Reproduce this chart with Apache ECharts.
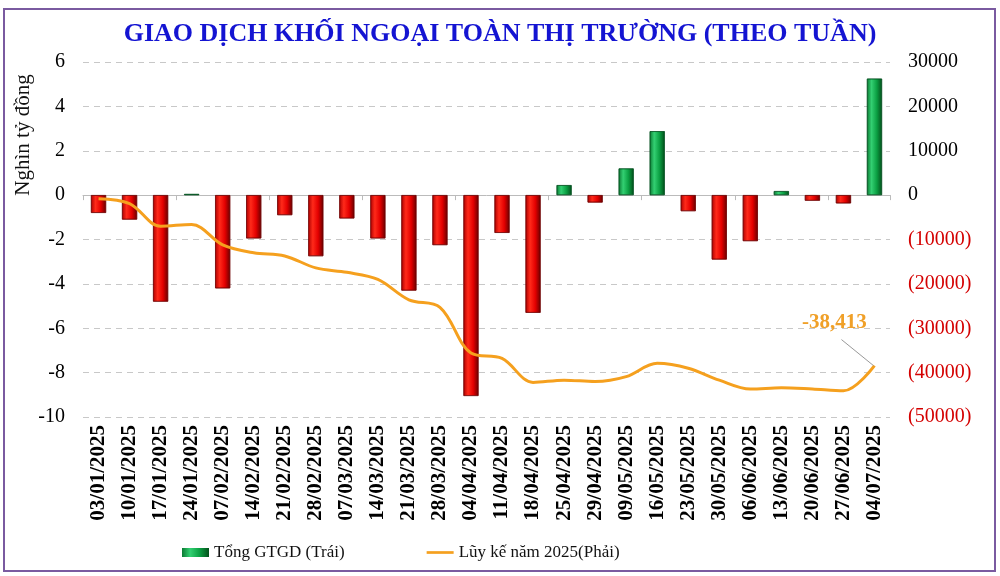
<!DOCTYPE html>
<html>
<head>
<meta charset="utf-8">
<script src="https://cdn.jsdelivr.net/npm/echarts@6/dist/echarts.min.js"></script>
<style>html,body{margin:0;padding:0;background:#fff;}#c{width:1000px;height:576px;}</style>
</head>
<body>
<div id="c"></div>
<script>
var categories = ['03/01/2025','10/01/2025','17/01/2025','24/01/2025','07/02/2025','14/02/2025','21/02/2025','28/02/2025','07/03/2025','14/03/2025','21/03/2025','28/03/2025','04/04/2025','11/04/2025','18/04/2025','25/04/2025','29/04/2025','09/05/2025','16/05/2025','23/05/2025','30/05/2025','06/06/2025','13/06/2025','20/06/2025','27/06/2025','04/07/2025'];
var weeklyValues = [-0.8, -1.1, -4.8, 0.05, -4.2, -1.95, -0.9, -2.75, -1.05, -1.95, -4.3, -2.25, -9.05, -1.7, -5.3, 0.45, -0.33, 1.2, 2.88, -0.72, -2.9, -2.07, 0.18, -0.25, -0.37, 5.25];
var cumulativeValues = [-800, -1900, -7000, -6600, -11200, -13000, -13700, -16400, -17400, -19000, -23600, -25300, -35600, -36800, -42200, -41700, -42000, -40900, -37900, -39000, -41700, -43700, -43400, -43700, -44100, -38413];
var leftTicks = {min: -10, max: 6, interval: 2};
var rightTicks = {min: -50000, max: 30000, interval: 10000};

var serif = '"Liberation Serif", "Times New Roman", serif';
function grad(stops) {
  return new echarts.graphic.LinearGradient(0, 0, 1, 0, stops.map(function (s) { return {offset: s[0], color: s[1]}; }));
}
var greenGrad = grad([[0, '#0b7a33'], [0.3, '#33d072'], [0.65, '#0ba043'], [1, '#03501b']]);
var redGrad = grad([[0, '#b00000'], [0.3, '#ff2a1a'], [0.65, '#e40000'], [1, '#6a0000']]);

var barData = weeklyValues.map(function (v) {
  return {value: v, itemStyle: {color: v >= 0 ? greenGrad : redGrad, borderColor: v >= 0 ? '#045020' : '#700000', borderWidth: 0.6}};
});
var lastIdx = cumulativeValues.length - 1;

var chart = echarts.init(document.getElementById('c'));
chart.setOption({
  animation: false,
  backgroundColor: '#fff',
  title: {
    text: 'GIAO DỊCH KHỐI NGOẠI TOÀN THỊ TRƯỜNG (THEO TUẦN)',
    left: 'center', top: 16,
    textStyle: {fontFamily: serif, fontWeight: 'bold', fontSize: 26, color: '#1414d2'}
  },
  legend: {
    bottom: 10, left: 177, itemGap: 82, itemWidth: 27, itemHeight: 9,
    textStyle: {fontFamily: serif, fontSize: 17, color: '#111'},
    data: [
      {name: 'Tổng GTGD (Trái)', icon: 'rect'},
      {name: 'Lũy kế năm 2025(Phải)', icon: 'path://M0,0 L30,0 L30,3 L0,3 Z', itemStyle: {color: '#f5a01e'}}
    ]
  },
  grid: {left: 83, right: 110, top: 62, bottom: 159},
  xAxis: [
    {
      type: 'category', data: categories, position: 'bottom',
      axisLine: {show: false, onZero: false}, axisTick: {show: false},
      axisLabel: {rotate: 90, margin: 8, interval: 0, fontFamily: serif, fontWeight: 'bold', fontSize: 21, color: '#000'}
    },
    {
      type: 'category', data: categories, position: 'bottom',
      axisLine: {show: true, onZero: true, lineStyle: {color: '#bbb', width: 1}},
      axisTick: {show: true, length: 5, lineStyle: {color: '#bbb'}},
      axisLabel: {show: false}
    }
  ],
  yAxis: [
    {
      type: 'value', min: leftTicks.min, max: leftTicks.max, interval: leftTicks.interval,
      axisLine: {show: false}, axisTick: {show: false},
      axisLabel: {fontFamily: serif, fontSize: 20, color: '#000', margin: 18},
      splitLine: {show: true, lineStyle: {type: [6, 5], color: '#c8c8c8', width: 1}}
    },
    {
      type: 'value', min: rightTicks.min, max: rightTicks.max, interval: rightTicks.interval,
      axisLine: {show: false}, axisTick: {show: false}, splitLine: {show: false},
      axisLabel: {
        margin: 18,
        formatter: function (v) { return v < 0 ? '{n|(' + Math.abs(v) + ')}' : '{p|' + v + '}'; },
        rich: {
          n: {fontFamily: serif, fontSize: 20, color: '#d40000'},
          p: {fontFamily: serif, fontSize: 20, color: '#000'}
        }
      }
    }
  ],
  series: [
    {
      name: 'Tổng GTGD (Trái)', type: 'bar', xAxisIndex: 0, yAxisIndex: 0,
      barWidth: 15, data: barData,
      itemStyle: {color: greenGrad}
    },
    {
      name: 'Lũy kế năm 2025(Phải)', type: 'line', xAxisIndex: 0, yAxisIndex: 1,
      smooth: 0.35, symbol: 'none', data: cumulativeValues,
      lineStyle: {color: '#f5a01e', width: 3}, itemStyle: {color: '#f5a01e'},
      z: 5
    }
  ]
});

// annotation for last cumulative value, positioned from the library's own scales
var pt = chart.convertToPixel({xAxisIndex: 0, yAxisIndex: 1}, [categories[lastIdx], cumulativeValues[lastIdx]]);
chart.setOption({
  graphic: [
    {type: 'rect', shape: {x: 4, y: 9, width: 991, height: 562}, style: {fill: 'none', stroke: '#7a5aa0', lineWidth: 2}, silent: true},
    {type: 'text', x: 23, y: 135, rotation: Math.PI / 2,
     style: {text: 'Nghìn tỷ đồng', font: '21px ' + serif, fill: '#111', textAlign: 'center', textVerticalAlign: 'middle'}},
    {type: 'line', shape: {x1: pt[0] - 33, y1: pt[1] - 26, x2: pt[0] - 1, y2: pt[1]}, style: {stroke: '#999', lineWidth: 1}, z: 10},
    {type: 'text', x: pt[0] - 40, y: pt[1] - 43,
     style: {text: cumulativeValues[lastIdx].toLocaleString('en-US'), font: 'bold 21px ' + serif, fill: '#f0a028', textAlign: 'center', textVerticalAlign: 'middle'}, z: 10}
  ]
});
</script>
</body>
</html>
